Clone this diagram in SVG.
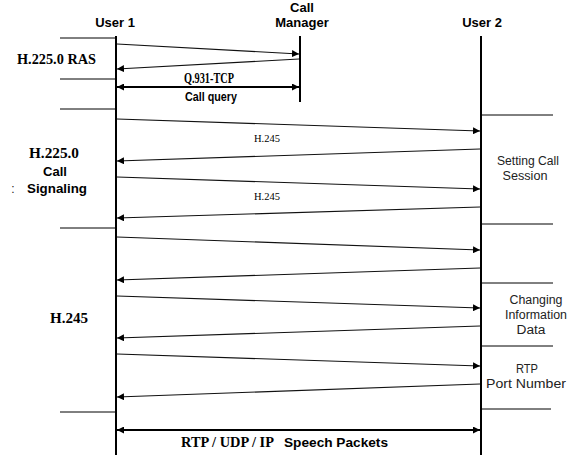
<svg xmlns="http://www.w3.org/2000/svg" width="574" height="455" viewBox="0 0 574 455">
<style>
.life{stroke:#000;stroke-width:2;fill:none}
.sep{stroke:#000;stroke-width:1;fill:none}
.msg{stroke:#111;stroke-width:1.1;fill:none}
.big{stroke:#000;stroke-width:1.8;fill:none}
.hd{font-family:"Liberation Sans",Arial,sans-serif;font-weight:bold;font-size:13px;text-anchor:middle}
.ser{font-family:"Liberation Serif","Times New Roman",serif;font-weight:bold;font-size:14px}
.lbl{font-family:"Liberation Sans",Arial,sans-serif;font-size:12px;fill:#222;text-anchor:middle}
.h245{font-family:"Liberation Serif","Times New Roman",serif;font-size:10.5px;text-anchor:middle}
.sb{font-family:"Liberation Sans",Arial,sans-serif;font-weight:bold;font-size:13px}
</style>
<defs>
<marker id="ah" viewBox="0 0 10 10" refX="10" refY="5" markerWidth="7" markerHeight="7" markerUnits="userSpaceOnUse" orient="auto-start-reverse">
<path d="M0,0 L10,5 L0,10 Z" fill="#000"/>
</marker>
</defs>
<rect width="574" height="455" fill="#fff"/>
<g id="user1">
<text class="hd" x="115" y="27">User 1</text>
<line class="life" x1="116" y1="36" x2="116" y2="455"/>
</g>
<g id="callmanager">
<text class="hd" x="302" y="12">Call</text>
<text class="hd" x="302" y="27">Manager</text>
<line class="life" x1="300" y1="36" x2="300" y2="102"/>
</g>
<g id="user2">
<text class="hd" x="482" y="27">User 2</text>
<line class="life" x1="481" y1="36" x2="481" y2="455"/>
</g>
<g id="phases-left">
<line class="sep" x1="60" y1="38" x2="116" y2="38"/>
<line class="sep" x1="60" y1="79" x2="116" y2="79"/>
<line class="sep" x1="60" y1="109" x2="116" y2="109"/>
<line class="sep" x1="60" y1="228" x2="116" y2="228"/>
<line class="sep" x1="60" y1="412" x2="116" y2="412"/>
<text class="ser" x="17" y="64" textLength="79" lengthAdjust="spacingAndGlyphs">H.225.0 RAS</text>
<text class="ser" x="29" y="158" textLength="50" lengthAdjust="spacingAndGlyphs">H.225.0</text>
<text class="sb" x="55" y="176" text-anchor="middle">Call</text>
<text class="sb" x="27" y="193" textLength="60" lengthAdjust="spacingAndGlyphs">Signaling</text>
<text class="lbl" x="13" y="193">:</text>
<text class="ser" x="50" y="323" textLength="38" lengthAdjust="spacingAndGlyphs">H.245</text>
</g>
<g id="phases-right">
<line class="sep" x1="481" y1="115" x2="553" y2="115"/>
<line class="sep" x1="481" y1="224" x2="553" y2="224"/>
<line class="sep" x1="481" y1="283" x2="553" y2="283"/>
<line class="sep" x1="481" y1="346" x2="553" y2="346"/>
<line class="sep" x1="481" y1="409" x2="551" y2="409"/>
<text class="lbl" x="528" y="165" textLength="62" lengthAdjust="spacingAndGlyphs">Setting Call</text>
<text class="lbl" x="525" y="180" textLength="45" lengthAdjust="spacingAndGlyphs">Session</text>
<text class="lbl" x="536" y="304" textLength="53" lengthAdjust="spacingAndGlyphs">Changing</text>
<text class="lbl" x="536" y="319" textLength="62" lengthAdjust="spacingAndGlyphs">Information</text>
<text class="lbl" x="531" y="334" textLength="29" lengthAdjust="spacingAndGlyphs">Data</text>
<text class="lbl" x="527" y="373" textLength="22" lengthAdjust="spacingAndGlyphs">RTP</text>
<text class="lbl" x="526" y="388" textLength="80" lengthAdjust="spacingAndGlyphs">Port Number</text>
</g>
<g id="connectors">
<line class="msg" x1="117" y1="44" x2="299" y2="54" marker-end="url(#ah)"/>
<line class="msg" x1="299" y1="59" x2="117" y2="69" marker-end="url(#ah)"/>
<line class="big" x1="117" y1="87" x2="299" y2="87" marker-start="url(#ah)" marker-end="url(#ah)"/>
<text class="ser" x="184" y="83" font-size="11" textLength="50" lengthAdjust="spacingAndGlyphs">Q.931-TCP</text>
<text class="sb" x="185" y="101" font-size="11.5" textLength="52" lengthAdjust="spacingAndGlyphs">Call query</text>
<line class="msg" x1="117" y1="119" x2="480" y2="131" marker-end="url(#ah)"/>
<text class="h245" x="267" y="142">H.245</text>
<line class="msg" x1="480" y1="149" x2="117" y2="161" marker-end="url(#ah)"/>
<line class="msg" x1="117" y1="177" x2="480" y2="189" marker-end="url(#ah)"/>
<text class="h245" x="267" y="200">H.245</text>
<line class="msg" x1="480" y1="207" x2="117" y2="218" marker-end="url(#ah)"/>
<line class="msg" x1="117" y1="237" x2="480" y2="250" marker-end="url(#ah)"/>
<line class="msg" x1="480" y1="268" x2="117" y2="280" marker-end="url(#ah)"/>
<line class="msg" x1="117" y1="296" x2="480" y2="308" marker-end="url(#ah)"/>
<line class="msg" x1="480" y1="326" x2="117" y2="338" marker-end="url(#ah)"/>
<line class="msg" x1="117" y1="354" x2="480" y2="366" marker-end="url(#ah)"/>
<line class="msg" x1="480" y1="384" x2="117" y2="397" marker-end="url(#ah)"/>
<line class="big" x1="117" y1="430" x2="480" y2="430" marker-start="url(#ah)" marker-end="url(#ah)"/>
<text class="ser" x="181" y="447" font-size="13.5" textLength="93" lengthAdjust="spacingAndGlyphs">RTP / UDP / IP</text>
<text class="sb" x="284" y="447" font-size="13.5" textLength="104" lengthAdjust="spacingAndGlyphs">Speech Packets</text>
</g>
</svg>
